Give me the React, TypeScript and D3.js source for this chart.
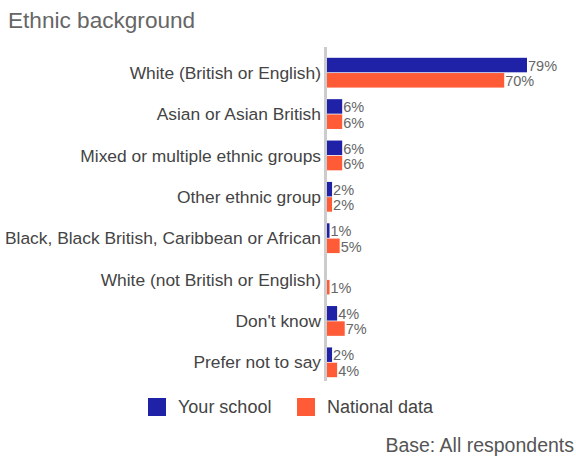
import React from "react";
import * as d3 from "d3";

const categories = [
  "White (British or English)",
  "Asian or Asian British",
  "Mixed or multiple ethnic groups",
  "Other ethnic group",
  "Black, Black British, Caribbean or African",
  "White (not British or English)",
  "Don't know",
  "Prefer not to say",
];
const schoolValues = [79, 6, 6, 2, 1, 0, 4, 2];
const nationalValues = [70, 6, 6, 2, 5, 1, 7, 4];
const seriesNames = ["Your school", "National data"];
const colors = ["#1f22a6", "#ff5b37"];

export default function App() {
  const W = 576, H = 457;
  const x0 = 327;
  const x = d3.scaleLinear().domain([0, 79]).range([x0, 527]);
  const y = d3.scaleBand().domain(categories).range([52, 383]).paddingInner(0.28).paddingOuter(0.14);
  const inner = d3.scaleBand().domain(seriesNames).range([0, y.bandwidth()]).paddingInner(0.05);
  const font = "'Liberation Sans', Arial, Helvetica, sans-serif";
  const series = [schoolValues, nationalValues];
  return (
    <svg width={W} height={H} style={{ position: "absolute", left: 0, top: 0 }} fontFamily={font}>
      <text x={8} y={28} fontSize={22.6} fill="#666">Ethnic background</text>
      {categories.map((c, i) => (
        <text key={c} x={321} y={(y(c) as number) + y.bandwidth() / 2} dy="0.35em" textAnchor="end" fontSize={17.4} fill="#444">{c}</text>
      ))}
      {series.map((vals, s) =>
        categories.map((c, i) => {
          const v = vals[i];
          const yy = (y(c) as number) + (inner(seriesNames[s]) as number);
          const h = inner.bandwidth();
          return (
            <g key={c + s}>
              {v > 0 && <rect x={x0} y={yy} width={x(v) - x0} height={h} fill={colors[s]} />}
              {v > 0 && (
                <text x={x(v) + 1} y={yy + h / 2} dy="0.4em" fontSize={14.5} fill="#666">{v}%</text>
              )}
            </g>
          );
        })
      )}
      <line x1={325.5} x2={325.5} y1={47} y2={381} stroke="#ccc" strokeWidth={3} />
      {seriesNames.map((n, i) => (
        <g key={n} transform={`translate(${[148, 297][i]},398)`}>
          <rect width={18} height={18} fill={colors[i]} />
          <text x={30} y={9} dy="0.36em" fontSize={18} fill="#444">{n}</text>
        </g>
      ))}
      <text x={574} y={452} textAnchor="end" fontSize={19.5} fill="#555">Base: All respondents</text>
    </svg>
  );
}
